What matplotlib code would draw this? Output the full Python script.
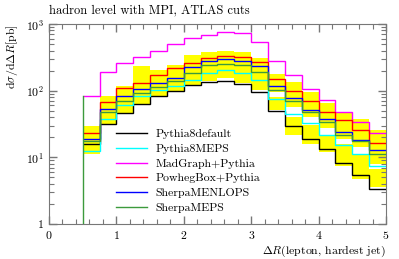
import numpy as np
import matplotlib
matplotlib.use("Agg")
import matplotlib.pyplot as plt
from matplotlib.ticker import FixedLocator, FixedFormatter, MultipleLocator, LogLocator

# bin edges of the Delta R histogram
edges = np.arange(0.5, 5.01, 0.25)

# cross sections per bin [pb]
pythia8default = [15.6, 32, 46.5, 64, 82, 100, 123, 135, 141, 126, 96, 50, 29.3, 18.6, 13.2, 8.1, 5.4, 3.4]
pythia8meps = [12.4, 37, 60, 82, 101, 119, 146, 186, 206, 186, 146, 76, 44, 33, 22, 15.1, 11.1, 7.4]
madgraph = [84, 188, 259, 325, 399, 498, 612, 685, 768, 726, 533, 280, 169, 107, 72, 48, 34, 22.8]
powheg = [23.4, 67, 110, 130, 169, 218, 259, 308, 336, 325, 265, 150, 98, 69, 48, 36, 26, 16.6]
sherpa_menlops = [18.6, 53, 84, 105, 132, 156, 228, 274, 297, 274, 231, 116, 77, 51, 38, 24, 18, 13]
sherpa_meps = [17.3, 48, 71, 92.5, 113.5, 138, 184, 244, 253, 244, 190, 103.5, 69, 48, 33.8, 22, 17.5, 11.1]

# uncertainty envelopes (yellow)
band_up_hi = [30, 82, 116, 231, 206, 244, 344, 386, 395, 378, 308, 179, 136, 97, 66, 47, 37, 26]
band_up_lo = [15.6, 44, 62, 87, 111, 132, 173, 206, 220, 206, 173, 97, 56, 40, 28, 18.6, 14.1, 7.9]
band_dn_hi = [18.6, 52, 73, 103.5, 123, 146, 192, 220, 236, 220, 192, 81, 40, 31, 22, 15.6, 11.1, 6.6]
band_dn_lo = [11.1, 31, 44, 62, 82, 98, 116, 138, 155, 130, 103.5, 52, 21.3, 15.6, 12, 7.5, 4.8, 3.6]

labels = ["Pythia8default", "Pythia8MEPS", "MadGraph+Pythia", "PowhegBox+Pythia",
          "SherpaMENLOPS", "SherpaMEPS"]
colors = ["black", "#00ffff", "#ff00ff", "#ff0000", "#0000ff", "#3c9a3c"]

ytick_vals = [1, 10, 100, 1000]
ytick_labels = ["1", "$10^1$", "$10^2$", "$10^3$"]

plt.rcParams["font.family"] = ["cmr10"]
plt.rcParams["mathtext.fontset"] = "cm"
plt.rcParams["axes.formatter.use_mathtext"] = True
plt.rcParams["font.size"] = 8.5

fig = plt.figure(figsize=(3.99, 2.59), dpi=100)
ax = fig.add_axes([0.1228, 0.1352, 0.8446, 0.7721])

ax.stairs(band_up_hi, edges, baseline=band_up_lo, fill=True, color="#ffff00", lw=0)
ax.stairs(band_dn_hi, edges, baseline=band_dn_lo, fill=True, color="#ffff00", lw=0)

series = [pythia8default, pythia8meps, madgraph, powheg, sherpa_menlops, sherpa_meps]
for vals, lab, col in zip(series, labels, colors):
    ax.stairs(vals, edges, baseline=None, color=col, lw=1.0, label=lab)
# vertical edge down to the axis at the first bin
ax.plot([0.5, 0.5], [1, 84], color="#3c9a3c", lw=1.0)

ax.set_yscale("log")
ax.set_xlim(0, 5)
ax.set_ylim(1, 1000)

ax.yaxis.set_major_locator(FixedLocator(ytick_vals))
ax.yaxis.set_major_formatter(FixedFormatter(ytick_labels))
ax.yaxis.set_minor_locator(LogLocator(base=10, subs=np.arange(2, 10)))
ax.yaxis.set_minor_formatter(FixedFormatter([]))
ax.xaxis.set_major_locator(MultipleLocator(1))
ax.xaxis.set_minor_locator(MultipleLocator(0.2))

ax.tick_params(which="both", direction="in", top=True, right=True, color="#777777")
ax.tick_params(which="major", length=6, width=1.0)
ax.tick_params(which="minor", length=3.5, width=0.8)
for s in ax.spines.values():
    s.set_color("#777777")

ax.set_ylabel(r"d$\sigma$/d$\Delta R$[pb]", loc="top")
ax.set_xlabel(r"$\Delta R$(lepton, hardest jet)", loc="right", labelpad=2)
ax.set_title("hadron level with MPI, ATLAS cuts", loc="left", fontsize=9, pad=7)

ax.legend(loc="lower left", bbox_to_anchor=(0.2, 0.055), frameon=False,
          handlelength=2.6, handletextpad=0.7, labelspacing=0.38, fontsize=8.5,
          borderpad=0, borderaxespad=0)

fig.savefig("out.png", dpi=100)
